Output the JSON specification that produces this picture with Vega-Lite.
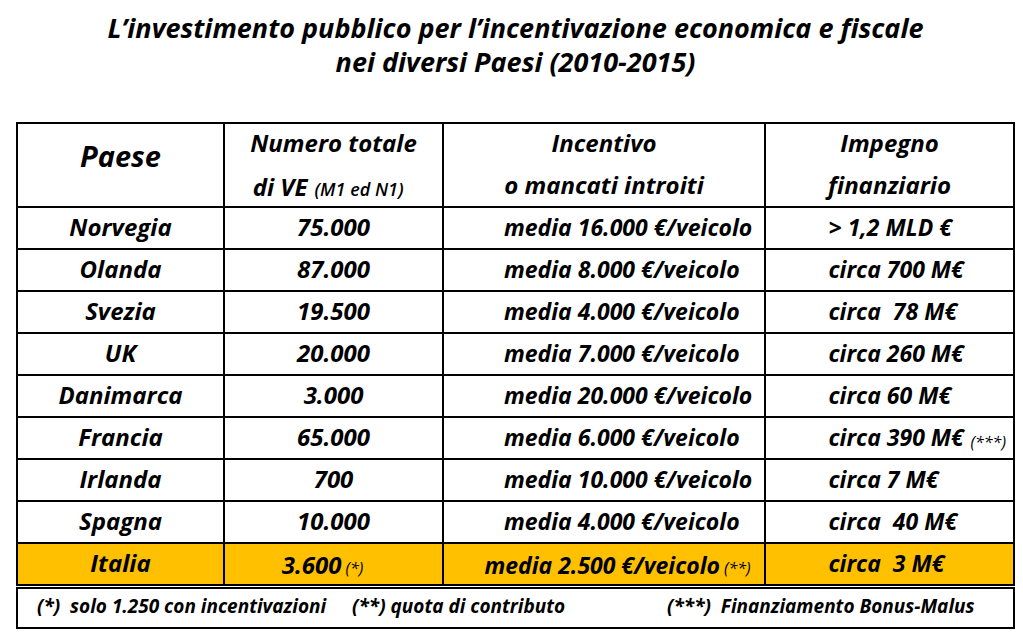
{
  "$schema": "https://vega.github.io/schema/vega-lite/v6.json",
  "background": "white",
  "padding": {"left": 15, "top": 16, "right": 0, "bottom": 0},
  "spacing": 0,
  "title": {
    "text": ["L’investimento pubblico per l’incentivazione economica e fiscale", "nei diversi Paesi (2010-2015)"],
    "anchor": "middle",
    "font": "Open Sans",
    "fontSize": 27,
    "fontStyle": "italic",
    "fontWeight": "bold",
    "color": "#000",
    "lineHeight": 34,
    "offset": 44
  },
  "datasets": {
    "table": [
      {"row": "h1", "kind": "header", "paese": "Paese", "numero": "Numero totale", "incentivo": "Incentivo", "impegno": "Impegno"},
      {"row": "h2", "kind": "header", "paese": "", "numero": "di VE", "numero_note": "(M1 ed N1)", "incentivo": "o mancati introiti", "impegno": "finanziario"},
      {"row": "Norvegia", "kind": "body", "paese": "Norvegia", "numero": "75.000", "incentivo": "media 16.000 €/veicolo", "impegno": "> 1,2 MLD €"},
      {"row": "Olanda", "kind": "body", "paese": "Olanda", "numero": "87.000", "incentivo": "media 8.000 €/veicolo", "impegno": "circa 700 M€"},
      {"row": "Svezia", "kind": "body", "paese": "Svezia", "numero": "19.500", "incentivo": "media 4.000 €/veicolo", "impegno": "circa\u00a0 78 M€"},
      {"row": "UK", "kind": "body", "paese": "UK", "numero": "20.000", "incentivo": "media 7.000 €/veicolo", "impegno": "circa 260 M€"},
      {"row": "Danimarca", "kind": "body", "paese": "Danimarca", "numero": "3.000", "incentivo": "media 20.000 €/veicolo", "impegno": "circa 60 M€"},
      {"row": "Francia", "kind": "body", "paese": "Francia", "numero": "65.000", "incentivo": "media 6.000 €/veicolo", "impegno": "circa 390 M€", "impegno_note": "(***)"},
      {"row": "Irlanda", "kind": "body", "paese": "Irlanda", "numero": "700", "incentivo": "media 10.000 €/veicolo", "impegno": "circa 7 M€"},
      {"row": "Spagna", "kind": "body", "paese": "Spagna", "numero": "10.000", "incentivo": "media 4.000 €/veicolo", "impegno": "circa\u00a0 40 M€"},
      {"row": "Italia", "kind": "highlight", "paese": "Italia", "numero": "3.600", "numero_note": "(*)", "incentivo": "media 2.500 €/veicolo", "incentivo_note": "(**)", "impegno": "circa\u00a0 3 M€"}
    ],
    "notes": [
      {"k": 1, "note": "(*)\u00a0 solo 1.250 con incentivazioni"},
      {"k": 2, "note": "(**) quota di contributo"},
      {"k": 3, "note": "(***)\u00a0 Finanziamento Bonus-Malus"}
    ]
  },
  "vconcat": [
    {
      "spacing": 0,
      "bounds": "flush",
      "hconcat": [
        {
          "width": 207, "height": 462,
          "data": {"name": "table"},
          "encoding": {"y": {"field": "row", "type": "nominal", "scale": {"type": "band", "domain": ["h1","h2","Norvegia","Olanda","Svezia","UK","Danimarca","Francia","Irlanda","Spagna","Italia"], "paddingInner": 0, "paddingOuter": 0}, "axis": null}},
          "layer": [
            {"transform": [{"filter": "datum.kind == 'highlight'"}], "mark": {"type": "rect", "fill": "#FFC000", "stroke": "#000", "strokeWidth": 2}},
            {"transform": [{"filter": "datum.kind != 'header'"}], "mark": {"type": "rule", "color": "#000", "strokeWidth": 2}, "encoding": {"y": {"field": "row", "type": "nominal", "bandPosition": 0, "axis": null}}},
            {"transform": [{"filter": "datum.kind != 'header'"}], "mark": {"type": "text", "dy": 1}, "encoding": {"text": {"field": "paese"}}},
            {"transform": [{"filter": "datum.row == 'h1'"}], "mark": {"type": "text", "fontSize": 29, "dy": -7}, "encoding": {"y": {"field": "row", "type": "nominal", "bandPosition": 1, "axis": null}, "text": {"field": "paese"}}}
          ]
        },
        {
          "width": 219, "height": 462,
          "data": {"name": "table"},
          "encoding": {"y": {"field": "row", "type": "nominal", "scale": {"type": "band", "domain": ["h1","h2","Norvegia","Olanda","Svezia","UK","Danimarca","Francia","Irlanda","Spagna","Italia"], "paddingInner": 0, "paddingOuter": 0}, "axis": null}},
          "layer": [
            {"transform": [{"filter": "datum.kind == 'highlight'"}], "mark": {"type": "rect", "fill": "#FFC000", "stroke": "#000", "strokeWidth": 2}},
            {"transform": [{"filter": "datum.kind != 'header'"}], "mark": {"type": "rule", "color": "#000", "strokeWidth": 2}, "encoding": {"y": {"field": "row", "type": "nominal", "bandPosition": 0, "axis": null}}},
            {"transform": [{"filter": "!datum.numero_note"}], "mark": {"type": "text", "dy": 1}, "encoding": {"text": {"field": "numero"}}},
            {"transform": [{"filter": "datum.row == 'h2'"}], "mark": {"type": "text", "align": "right", "baseline": "alphabetic", "dx": -26, "dy": 10}, "encoding": {"text": {"field": "numero"}}},
            {"transform": [{"filter": "datum.row == 'h2'"}], "mark": {"type": "text", "align": "left", "baseline": "alphabetic", "dx": -19, "dy": 10, "fontSize": 18, "fontWeight": 600}, "encoding": {"text": {"field": "numero_note"}}},
            {"transform": [{"filter": "datum.row == 'Italia'"}], "mark": {"type": "text", "align": "right", "baseline": "alphabetic", "dx": 8, "dy": 10}, "encoding": {"text": {"field": "numero"}}},
            {"transform": [{"filter": "datum.row == 'Italia'"}], "mark": {"type": "text", "align": "left", "baseline": "alphabetic", "dx": 12, "dy": 10, "fontSize": 16, "fontWeight": "normal"}, "encoding": {"text": {"field": "numero_note"}}}
          ]
        },
        {
          "width": 322, "height": 462,
          "data": {"name": "table"},
          "encoding": {"y": {"field": "row", "type": "nominal", "scale": {"type": "band", "domain": ["h1","h2","Norvegia","Olanda","Svezia","UK","Danimarca","Francia","Irlanda","Spagna","Italia"], "paddingInner": 0, "paddingOuter": 0}, "axis": null}},
          "layer": [
            {"transform": [{"filter": "datum.kind == 'highlight'"}], "mark": {"type": "rect", "fill": "#FFC000", "stroke": "#000", "strokeWidth": 2}},
            {"transform": [{"filter": "datum.kind != 'header'"}], "mark": {"type": "rule", "color": "#000", "strokeWidth": 2}, "encoding": {"y": {"field": "row", "type": "nominal", "bandPosition": 0, "axis": null}}},
            {"transform": [{"filter": "datum.kind == 'header'"}], "mark": {"type": "text", "dy": 1}, "encoding": {"text": {"field": "incentivo"}}},
            {"transform": [{"filter": "datum.kind == 'body'"}], "mark": {"type": "text", "align": "left", "dx": -100, "dy": 1, "fontSize": 23}, "encoding": {"text": {"field": "incentivo"}}},
            {"transform": [{"filter": "datum.kind == 'highlight'"}], "mark": {"type": "text", "align": "right", "baseline": "alphabetic", "dx": 116, "dy": 10, "fontSize": 23}, "encoding": {"text": {"field": "incentivo"}}},
            {"transform": [{"filter": "datum.kind == 'highlight'"}], "mark": {"type": "text", "align": "left", "baseline": "alphabetic", "dx": 120, "dy": 10, "fontSize": 16, "fontWeight": "normal"}, "encoding": {"text": {"field": "incentivo_note"}}}
          ]
        },
        {
          "width": 249, "height": 462,
          "data": {"name": "table"},
          "encoding": {"y": {"field": "row", "type": "nominal", "scale": {"type": "band", "domain": ["h1","h2","Norvegia","Olanda","Svezia","UK","Danimarca","Francia","Irlanda","Spagna","Italia"], "paddingInner": 0, "paddingOuter": 0}, "axis": null}},
          "layer": [
            {"transform": [{"filter": "datum.kind == 'highlight'"}], "mark": {"type": "rect", "fill": "#FFC000", "stroke": "#000", "strokeWidth": 2}},
            {"transform": [{"filter": "datum.kind != 'header'"}], "mark": {"type": "rule", "color": "#000", "strokeWidth": 2}, "encoding": {"y": {"field": "row", "type": "nominal", "bandPosition": 0, "axis": null}}},
            {"transform": [{"filter": "datum.kind == 'header'"}], "mark": {"type": "text", "dy": 1}, "encoding": {"text": {"field": "impegno"}}},
            {"transform": [{"filter": "datum.kind != 'header'"}], "mark": {"type": "text", "align": "left", "dx": -61, "dy": 1, "fontSize": 23}, "encoding": {"text": {"field": "impegno"}}},
            {"transform": [{"filter": "datum.impegno_note"}], "mark": {"type": "text", "align": "left", "baseline": "alphabetic", "dx": 81, "dy": 10, "fontSize": 16, "fontWeight": "normal"}, "encoding": {"text": {"field": "impegno_note"}}}
          ]
        }
      ]
    },
    {
      "width": 997, "height": 40,
      "data": {"name": "notes"},
      "mark": {"type": "text", "align": "left", "fontSize": 19, "dy": -1},
      "encoding": {
        "x": {"field": "note", "type": "nominal", "sort": {"field": "k", "op": "min"}, "scale": {"type": "point", "range": [20, 650], "padding": 0}, "axis": null},
        "text": {"field": "note"}
      }
    }
  ],
  "config": {
    "view": {"stroke": "#000", "strokeWidth": 2},
    "axis": {"disable": true},
    "text": {"font": "Open Sans", "fontStyle": "italic", "fontWeight": "bold", "fontSize": 24, "color": "#000", "baseline": "middle"}
  }
}
